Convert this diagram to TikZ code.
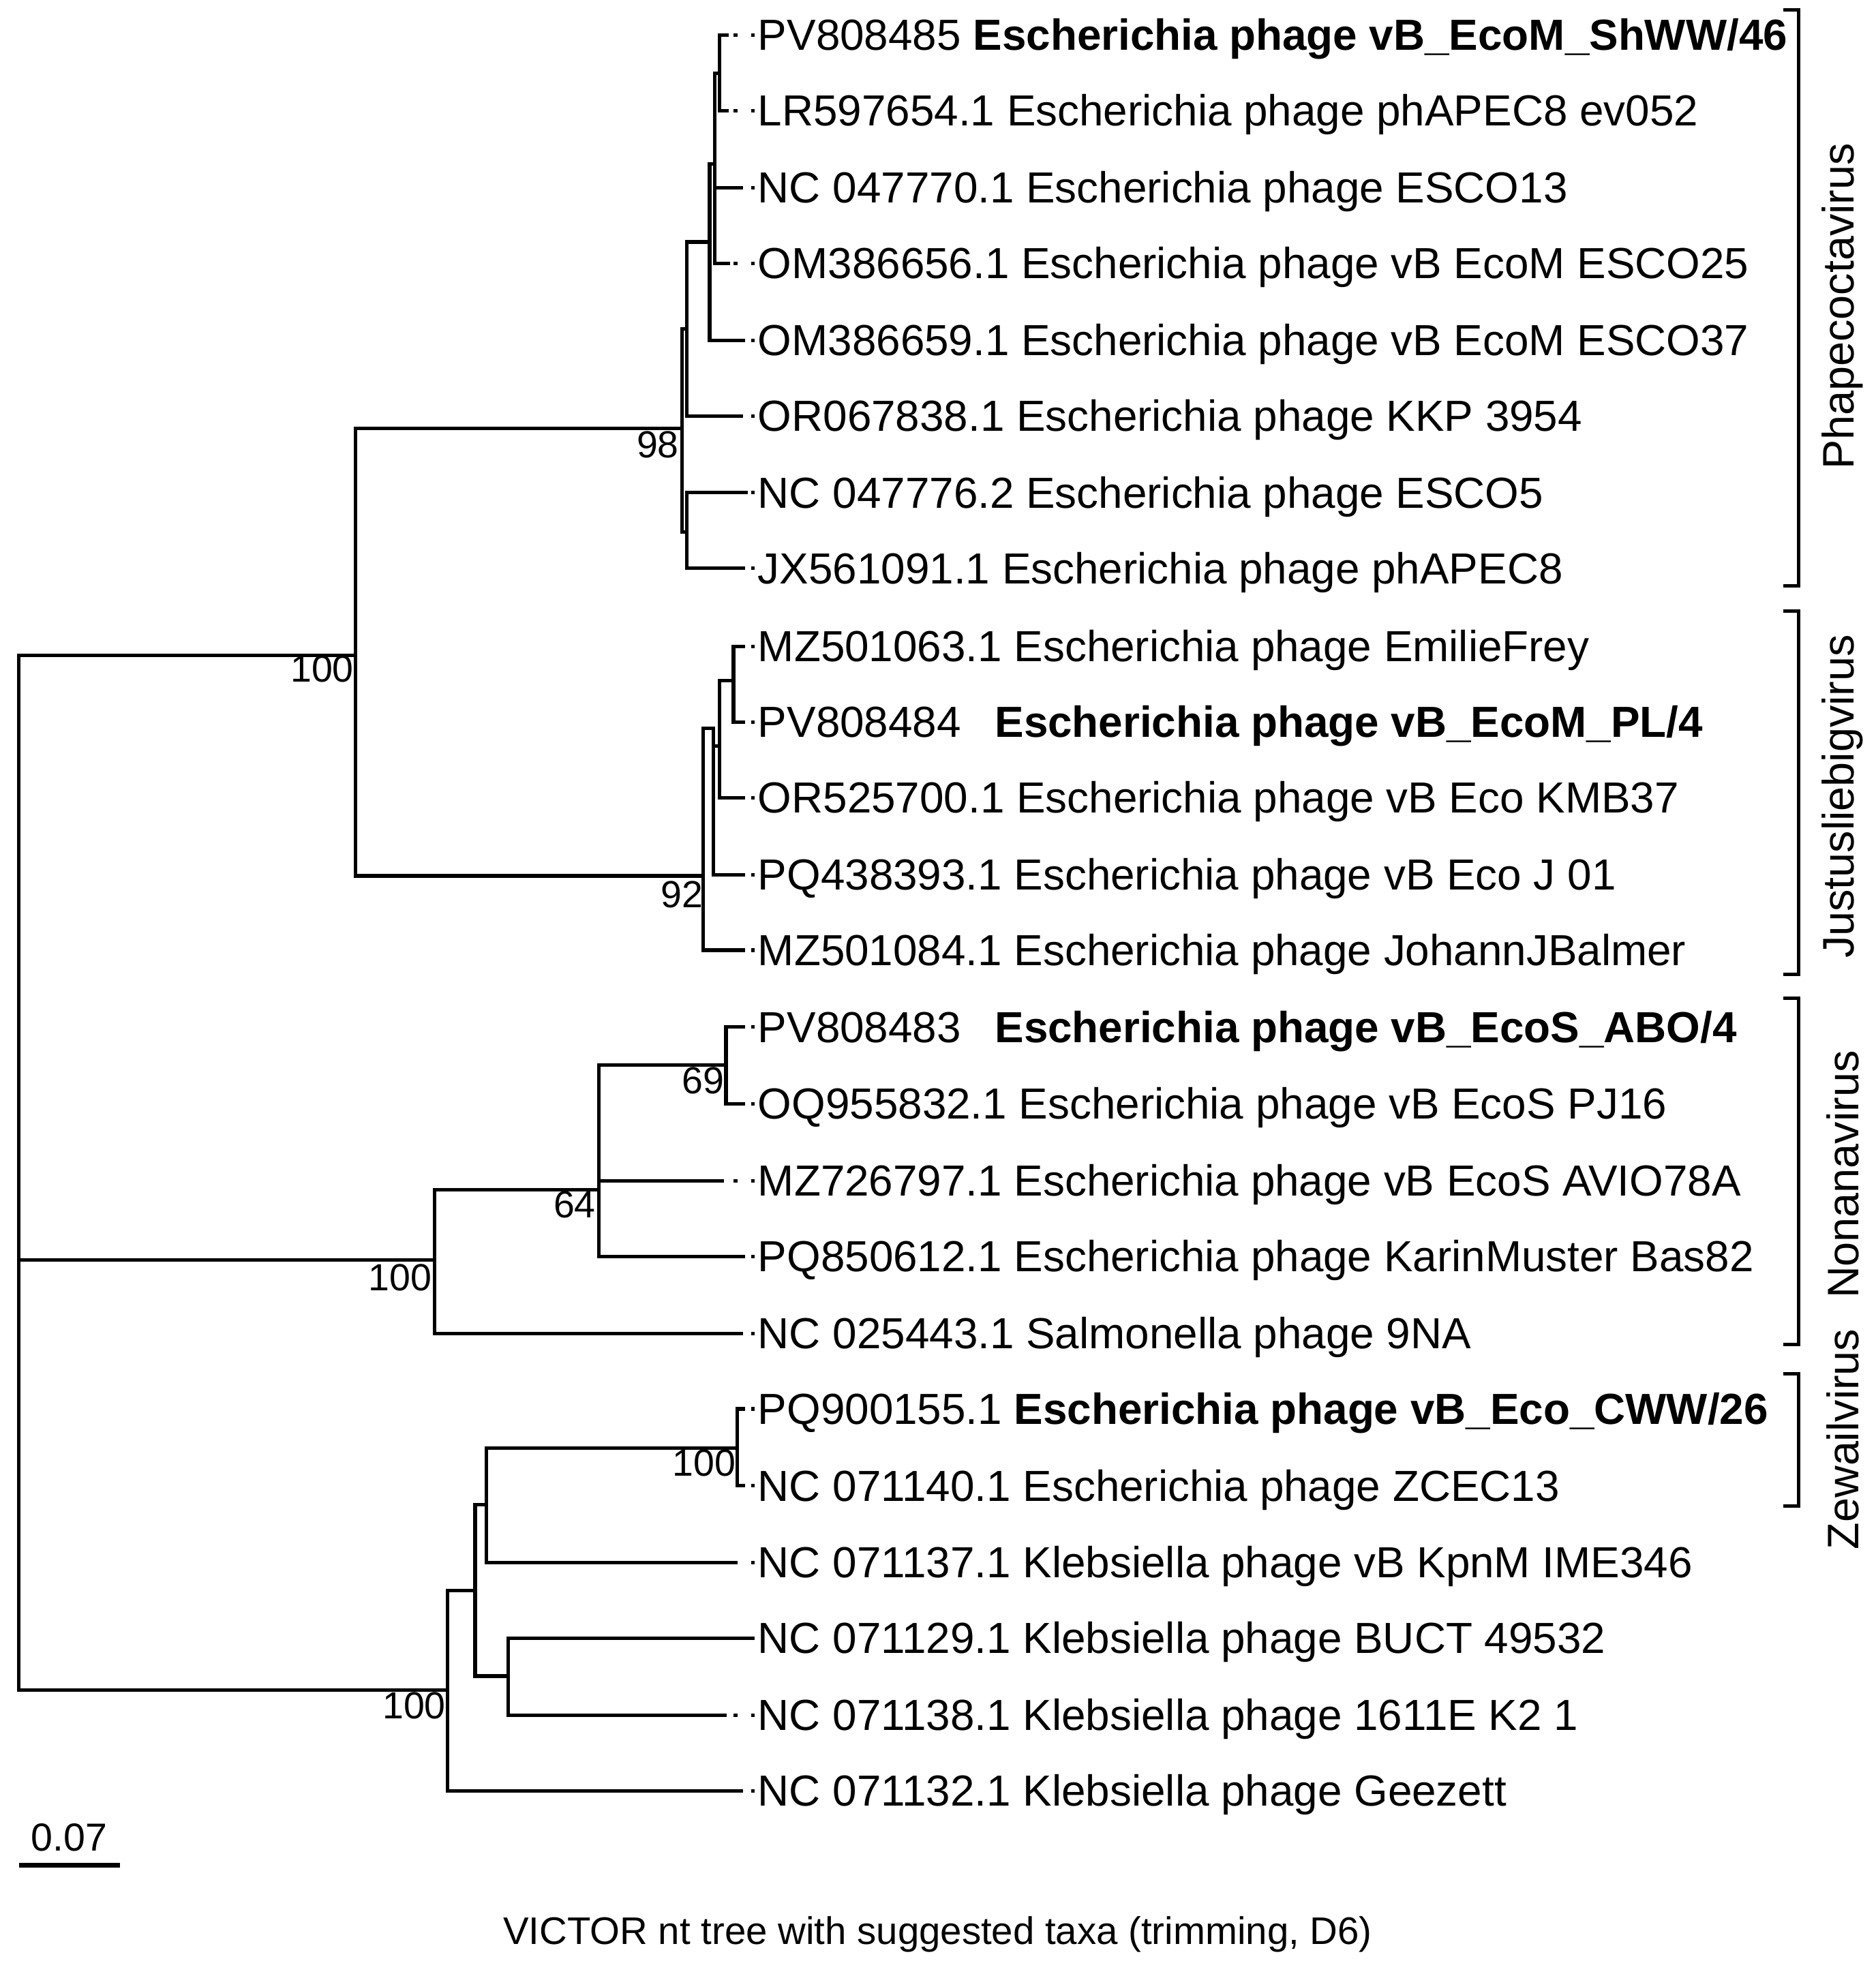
\documentclass[tikz,border=0pt]{standalone}
\usepackage{fontspec}
\setmainfont{Liberation Sans}
\begin{document}
\begin{tikzpicture}[x=1pt,y=-1pt,line width=2.8pt,
  br/.style={line width=2.8pt,line cap=rect},
  lab/.style={font=\fontsize{34.5}{40}\selectfont,inner sep=0pt,anchor=base west},
  bs/.style={font=\fontsize{30}{34}\selectfont,inner sep=0pt,anchor=base east},
  cl/.style={font=\fontsize{35}{40}\selectfont,inner sep=0pt,rotate=90}]
\useasboundingbox (0,0) rectangle (1488,1568);
\newcommand{\leafnode}[4]{%
  \coordinate (t#1) at (#3,#2);
  \fill (596,#2-1.4) rectangle (599,#2+1.4);
  \ifdim #3pt<586pt \fill (582,#2-1.4) rectangle (585,#2+1.4);\fi
  \node[lab] (l#1) at (600,#2+12) {#4};}
% leaves
\leafnode{1}{28}{577}{PV808485 \textbf{Escherichia phage vB\_EcoM\_ShWW/46}}
\leafnode{2}{88}{577}{LR597654.1 Escherichia phage phAPEC8 ev052}
\leafnode{3}{149}{588}{NC 047770.1 Escherichia phage ESCO13}
\leafnode{4}{209}{578}{OM386656.1 Escherichia phage vB EcoM ESCO25}
\leafnode{5}{270}{590}{OM386659.1 Escherichia phage vB EcoM ESCO37}
\leafnode{6}{330}{588}{OR067838.1 Escherichia phage KKP 3954}
\leafnode{7}{391}{592}{NC 047776.2 Escherichia phage ESCO5}
\leafnode{8}{451}{590}{JX561091.1 Escherichia phage phAPEC8}
\leafnode{9}{513}{590}{MZ501063.1 Escherichia phage EmilieFrey}
\leafnode{10}{573}{590}{PV808484\hspace{0.5em} \textbf{Escherichia phage vB\_EcoM\_PL/4}}
\leafnode{11}{633}{590}{OR525700.1 Escherichia phage vB Eco KMB37}
\leafnode{12}{694}{590}{PQ438393.1 Escherichia phage vB Eco J 01}
\leafnode{13}{754}{590}{MZ501084.1 Escherichia phage JohannJBalmer}
\leafnode{14}{815}{590}{PV808483\hspace{0.5em} \textbf{Escherichia phage vB\_EcoS\_ABO/4}}
\leafnode{15}{876}{590}{OQ955832.1 Escherichia phage vB EcoS PJ16}
\leafnode{16}{937}{573}{MZ726797.1 Escherichia phage vB EcoS AVIO78A}
\leafnode{17}{997}{590}{PQ850612.1 Escherichia phage KarinMuster Bas82}
\leafnode{18}{1058}{588}{NC 025443.1 Salmonella phage 9NA}
\leafnode{19}{1118}{590}{PQ900155.1 \textbf{Escherichia phage vB\_Eco\_CWW/26}}
\leafnode{20}{1179}{590}{NC 071140.1 Escherichia phage ZCEC13}
\leafnode{21}{1240}{583}{NC 071137.1 Klebsiella phage vB KpnM IME346}
\leafnode{22}{1300}{597}{NC 071129.1 Klebsiella phage BUCT 49532}
\leafnode{23}{1361}{575}{NC 071138.1 Klebsiella phage 1611E K2 1}
\leafnode{24}{1421}{588}{NC 071132.1 Klebsiella phage Geezett}
% internal nodes
\coordinate (R) at (15,1000);
\coordinate (T) at (282,520);
\coordinate (P98) at (541,340);
\coordinate (A) at (545,261);
\coordinate (C) at (545,422);
\coordinate (B) at (563,192);
\coordinate (E) at (567,130);
\coordinate (D) at (571,58);
\coordinate (P92) at (558,695);
\coordinate (F) at (566,578);
\coordinate (G) at (571,592);
\coordinate (H) at (582,540);
\coordinate (N100) at (345,1000);
\coordinate (N64) at (475,944);
\coordinate (N69) at (576,845);
\coordinate (K100) at (355,1341);
\coordinate (K) at (377,1262);
\coordinate (L) at (386,1194);
\coordinate (M) at (585,1149);
\coordinate (N) at (403,1330);
% branches
\foreach \p/\c in {R/T,R/N100,R/K100,T/P98,T/P92,P98/A,P98/C,A/B,A/t6,C/t7,C/t8,
  B/E,B/t5,E/D,E/t3,E/t4,D/t1,D/t2,
  P92/F,P92/t13,F/G,F/t12,G/H,G/t11,H/t9,H/t10,
  N100/N64,N100/t18,N64/N69,N64/t16,N64/t17,N69/t14,N69/t15,
  K100/K,K100/t24,K/L,K/N,L/M,L/t21,M/t19,M/t20,N/t22,N/t23}
  \draw[br] (\p) |- (\c);
% bootstrap
\node[bs] at (282,541) {100};
\node[bs] at (540,363) {98};
\node[bs] at (559,720) {92};
\node[bs] at (576,868) {69};
\node[bs] at (474,966) {64};
\node[bs] at (344,1024) {100};
\node[bs] at (585,1171) {100};
\node[bs] at (355,1364) {100};
% clade brackets
\draw[line width=2.6pt] (1415,8) -- (1427,8) -- (1427,465) -- (1415,465);
\draw[line width=2.6pt] (1415,485) -- (1427,485) -- (1427,773) -- (1415,773);
\draw[line width=2.6pt] (1415,792) -- (1427,792) -- (1427,1067) -- (1415,1067);
\draw[line width=2.6pt] (1415,1090) -- (1427,1090) -- (1427,1195) -- (1415,1195);
\node[cl] (c1) at (1462,243) {Phapecoctavirus};
\node[cl] (c2) at (1462,632) {Justusliebigvirus};
\node[cl] (c3) at (1462,932) {Nonanavirus};
\node[cl] (c4) at (1462,1142) {Zewailvirus};
% scale
\draw[line width=4pt] (15,1480) -- (95,1480);
\node[font=\fontsize{31}{36}\selectfont,inner sep=0pt] (sc) at (55,1458) {0.07};
\node[font=\fontsize{30.5}{36}\selectfont,inner sep=0pt] (cap) at (744,1535) {VICTOR nt tree with suggested taxa (trimming, D6)};
\end{tikzpicture}
\end{document}
